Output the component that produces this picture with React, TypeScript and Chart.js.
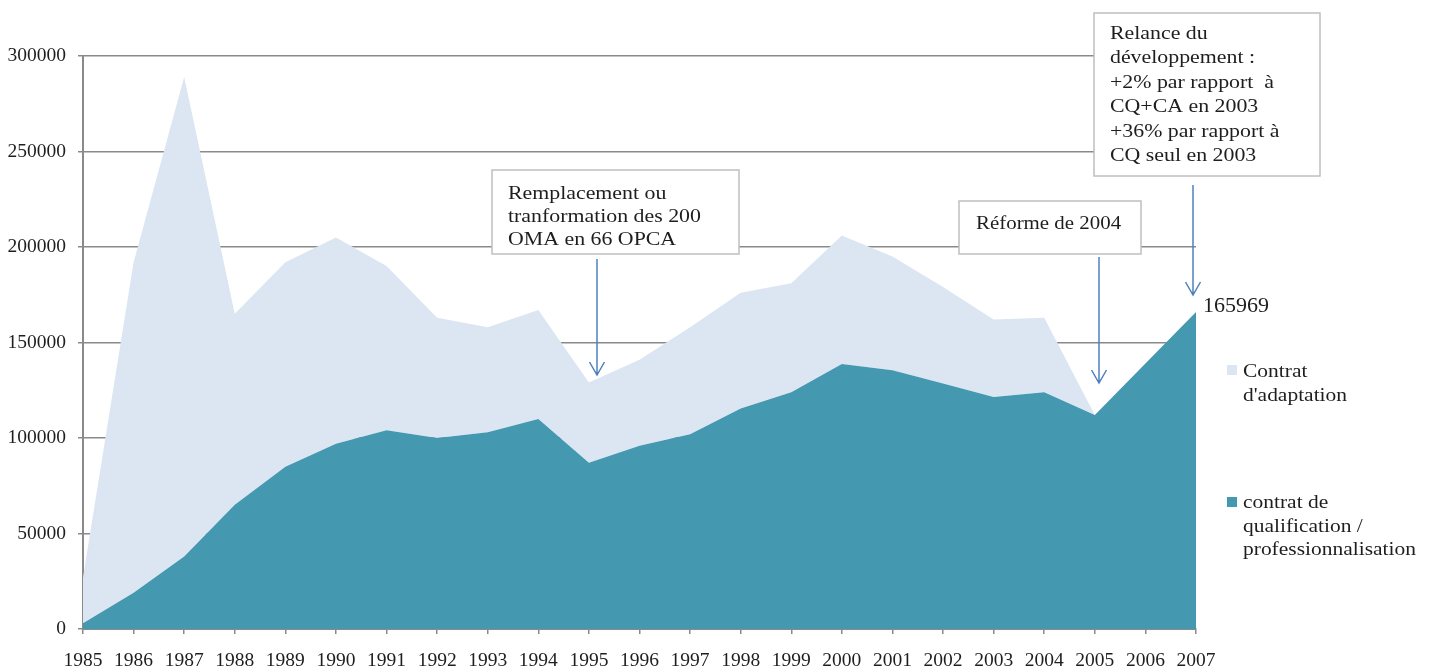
import React, { useEffect, useRef } from "react";
import { Chart, registerables } from "chart.js";

Chart.register(...registerables);

const years = ["1985","1986","1987","1988","1989","1990","1991","1992","1993","1994","1995","1996","1997","1998","1999","2000","2001","2002","2003","2004","2005","2006","2007"];
const qualification = [3000,19000,38000,65000,85000,97000,104000,100000,103000,110000,87000,96000,102000,115500,124000,138700,135500,128500,121500,124000,112000,139000,165969];
const adaptation = [24000,173000,251000,100000,107000,108000,86000,63000,55000,57000,42000,45000,56000,60500,57000,67300,59500,50500,40500,39000,0,0,0];
const yTicks = [0, 50000, 100000, 150000, 200000, 250000, 300000];
const lastValueLabel = "165969";
const legendAdaptation = ["Contrat", "d'adaptation"];
const legendQualification = ["contrat de", "qualification /", "professionnalisation"];
const note1 = ["Remplacement ou", "tranformation des 200", "OMA en 66 OPCA"];
const note2 = ["Réforme de 2004"];
const note3 = ["Relance du", "développement :", "+2% par rapport  à", "CQ+CA en 2003", "+36% par rapport à", "CQ seul en 2003"];

const TEAL = "#4498B0";
const LIGHT = "#DCE6F2";
const GRID = "#8a8a8a";
const TEXT = "#1e1e1e";
const ARROW = "#4F81BD";
const FONT = "'Liberation Serif', serif";

function stretchText(ctx: CanvasRenderingContext2D, t: string, x: number, y: number, sx: number) {
  ctx.save();
  ctx.translate(x, y);
  ctx.scale(sx, 1);
  ctx.fillText(t, 0, 0);
  ctx.restore();
}

function box(ctx: CanvasRenderingContext2D, x0: number, y0: number, x1: number, y1: number) {
  ctx.save();
  ctx.fillStyle = "#ffffff";
  ctx.fillRect(x0, y0, x1 - x0, y1 - y0);
  ctx.strokeStyle = "#BFBFBF";
  ctx.lineWidth = 1.5;
  ctx.strokeRect(x0, y0, x1 - x0, y1 - y0);
  ctx.restore();
}

function arrow(ctx: CanvasRenderingContext2D, x: number, y0: number, y1: number) {
  ctx.save();
  ctx.strokeStyle = ARROW;
  ctx.lineWidth = 1.5;
  ctx.beginPath();
  ctx.moveTo(x, y0);
  ctx.lineTo(x, y1);
  ctx.moveTo(x - 7.5, y1 - 13);
  ctx.lineTo(x, y1);
  ctx.lineTo(x + 7.5, y1 - 13);
  ctx.stroke();
  ctx.restore();
}

const annotationsPlugin = {
  id: "annotationsPlugin",
  afterDraw(chart: any) {
    const ctx: CanvasRenderingContext2D = chart.ctx;
    const SX = 1.15;
    ctx.save();
    ctx.fillStyle = TEXT;
    ctx.textBaseline = "alphabetic";
    ctx.textAlign = "left";
    ctx.font = `19px ${FONT}`;

    // note 1
    box(ctx, 492, 170, 739, 254);
    ctx.fillStyle = TEXT;
    note1.forEach((t, i) => stretchText(ctx, t, 508, 199 + i * 23, SX));
    arrow(ctx, 597, 259, 375);

    // note 2
    box(ctx, 959, 201, 1141, 254);
    ctx.fillStyle = TEXT;
    note2.forEach((t, i) => stretchText(ctx, t, 976, 229 + i * 23, 1.1));
    arrow(ctx, 1099, 257, 383);

    // note 3
    box(ctx, 1094, 13, 1320, 176);
    ctx.fillStyle = TEXT;
    note3.forEach((t, i) => stretchText(ctx, t, 1110, 39 + i * 24.4, SX));
    arrow(ctx, 1193, 185, 295);

    // last value label
    ctx.font = `22px ${FONT}`;
    ctx.fillText(lastValueLabel, 1203, 312);

    // legend
    ctx.font = `19px ${FONT}`;
    ctx.fillStyle = LIGHT;
    ctx.fillRect(1227, 365, 10, 10);
    ctx.fillStyle = TEXT;
    legendAdaptation.forEach((t, i) => stretchText(ctx, t, 1243, 377 + i * 23.5, 1.13));
    ctx.fillStyle = TEAL;
    ctx.fillRect(1227, 497, 10, 10);
    ctx.fillStyle = TEXT;
    legendQualification.forEach((t, i) => stretchText(ctx, t, 1243, 508 + i * 23.5, 1.13));
    ctx.restore();
  },
};

export default function App() {
  const ref = useRef<HTMLCanvasElement | null>(null);
  useEffect(() => {
    if (!ref.current) return;
    const chart = new Chart(ref.current, {
      type: "line",
      data: {
        labels: years,
        datasets: [
          {
            label: legendQualification.join(" "),
            data: qualification,
            fill: "origin",
            backgroundColor: TEAL,
            borderColor: "rgba(0,0,0,0)",
            borderWidth: 0,
            pointRadius: 0,
            tension: 0,
          },
          {
            label: legendAdaptation.join(" "),
            data: adaptation,
            fill: "-1",
            backgroundColor: LIGHT,
            borderColor: "rgba(0,0,0,0)",
            borderWidth: 0,
            pointRadius: 0,
            tension: 0,
          },
        ],
      },
      options: {
        responsive: false,
        animation: false,
        events: [],
        layout: { padding: { top: 56, right: 235, left: 0, bottom: 0 } },
        plugins: { legend: { display: false }, tooltip: { enabled: false } },
        scales: {
          x: {
            grid: { drawOnChartArea: false, drawTicks: true, tickLength: 5, color: GRID, lineWidth: 1.5 },
            border: { color: GRID, width: 2 },
            ticks: { color: TEXT, font: { family: FONT, size: 19.5 }, padding: 15, maxRotation: 0, autoSkip: false },
            afterFit: (s: any) => { s.height = 39; },
          },
          y: {
            stacked: true,
            min: 0,
            max: 300000,
            afterBuildTicks: (s: any) => { s.ticks = yTicks.map((v) => ({ value: v })); },
            grid: { color: GRID, lineWidth: 1.5, tickLength: 5 },
            border: { color: GRID, width: 2 },
            ticks: { color: TEXT, font: { family: FONT, size: 19.5 }, padding: 12, callback: (v: any) => String(v) },
            afterFit: (s: any) => { s.width = 83; },
          },
        },
      },
      plugins: [annotationsPlugin],
    });
    return () => chart.destroy();
  }, []);
  return (
    <div style={{ position: "fixed", left: 0, top: 0, width: 1431, height: 668, background: "#fff" }}>
      <canvas ref={ref} width={1431} height={668} />
    </div>
  );
}
